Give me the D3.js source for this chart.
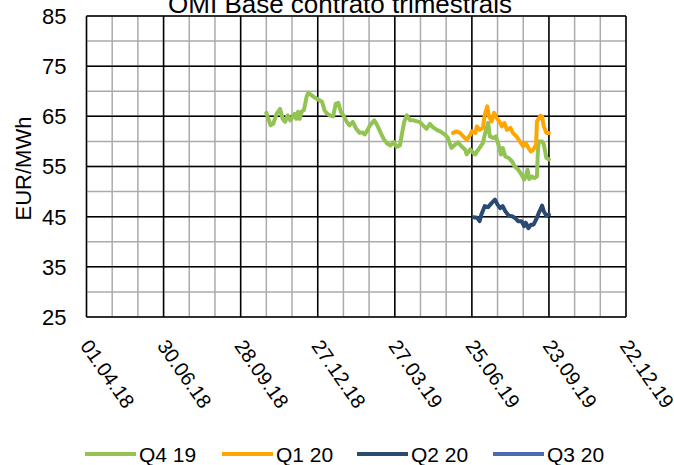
<!DOCTYPE html>
<html>
<head>
<meta charset="utf-8">
<script src="https://cdn.jsdelivr.net/npm/d3@7"></script>
<style>
  body { margin: 0; background: #fff; }
  svg { font-family: "Liberation Sans", Arial, sans-serif; }
</style>
</head>
<body>
<svg id="chart" width="674" height="465"></svg>
<script>
const chartTitle = "OMI Base contrato trimestrais";
const yTitle = "EUR/MWh";
const xTickLabels = ["01.04.18", "30.06.18", "28.09.18", "27.12.18", "27.03.19", "25.06.19", "23.09.19", "22.12.19"];
const yTicks = [25, 35, 45, 55, 65, 75, 85];
const seriesNames = ["Q4 19", "Q1 20", "Q2 20", "Q3 20"];
const seriesColors = ["#92c353", "#ffa600", "#2b4a72", "#5068ae"];

const q419Dates = ["28.10.18","02.11.18","05.11.18","09.11.18","13.11.18","16.11.18","19.11.18","22.11.18","25.11.18","28.11.18",
  "30.11.18","02.12.18","04.12.18","06.12.18","08.12.18","11.12.18","14.12.18","16.12.18","20.12.18","24.12.18",
  "28.12.18","01.01.19","04.01.19","07.01.19","10.01.19","14.01.19","17.01.19","20.01.19","23.01.19","26.01.19",
  "30.01.19","02.02.19","06.02.19","10.02.19","14.02.19","17.02.19","20.02.19","23.02.19","26.02.19","03.03.19",
  "06.03.19","10.03.19","14.03.19","18.03.19","22.03.19","26.03.19","29.03.19","02.04.19","04.04.19","07.04.19",
  "10.04.19","14.04.19","18.04.19","22.04.19","25.04.19","29.04.19","03.05.19","07.05.19","10.05.19","15.05.19",
  "19.05.19","25.05.19","28.05.19","01.06.19","05.06.19","09.06.19","13.06.19","17.06.19","19.06.19","23.06.19",
  "25.06.19","29.06.19","01.07.19","04.07.19","08.07.19","10.07.19","14.07.19","16.07.19","20.07.19","23.07.19",
  "26.07.19","29.07.19","31.07.19","03.08.19","07.08.19","11.08.19","14.08.19","18.08.19","22.08.19","25.08.19",
  "27.08.19","29.08.19","31.08.19","03.09.19","06.09.19","09.09.19","10.09.19","11.09.19","15.09.19","17.09.19",
  "20.09.19","23.09.19"];
const q419Values = [65.7,63.2,63.5,65.5,66.5,64.5,63.9,65.2,64.2,64.9,
  65.5,64.5,65.9,64.5,65.9,66.3,68.9,69.7,69.2,68.7,
  68.3,67.9,66.2,65.5,65.2,65.0,67.5,67.7,65.9,65.2,
  63.9,63.2,63.9,62.5,61.7,61.8,61.4,62.2,63.2,64.2,
  63.4,61.9,60.5,59.6,59.2,59.9,58.9,59.2,61.2,63.9,
  65.2,64.2,64.2,64.0,63.9,63.2,62.5,63.5,62.9,62.3,
  62.0,61.3,60.7,58.7,59.3,59.8,59.0,58.4,57.4,58.4,
  58.0,57.4,58.0,58.7,59.7,61.3,63.7,61.0,60.7,61.0,
  59.4,57.4,58.7,57.0,56.7,56.0,55.0,54.4,53.4,52.4,
  53.0,54.4,52.5,53.0,52.7,53.0,57.7,60.0,60.0,59.4,
  56.7,56.4];

const q120Dates = ["03.06.19","07.06.19","11.06.19","15.06.19","19.06.19","23.06.19","25.06.19","29.06.19",
  "01.07.19","04.07.19","08.07.19","10.07.19","13.07.19","15.07.19","18.07.19","21.07.19","24.07.19","27.07.19","30.07.19",
  "02.08.19","05.08.19","09.08.19","12.08.19","16.08.19","20.08.19","24.08.19","27.08.19","30.08.19",
  "02.09.19","05.09.19","08.09.19","09.09.19","13.09.19","15.09.19","17.09.19","20.09.19","23.09.19"];
const q120Values = [61.7,62.0,61.7,61.0,60.3,61.3,62.0,61.7,
  63.0,62.3,62.7,65.3,67.0,65.0,64.0,65.7,64.7,64.0,63.0,
  63.7,62.3,62.7,61.7,61.0,60.0,59.0,59.7,58.7,
  58.0,58.4,59.4,64.0,65.1,65.0,63.0,61.7,61.7];

const q220Dates = ["27.06.19","01.07.19","04.07.19","06.07.19","10.07.19","14.07.19","18.07.19","22.07.19","25.07.19","28.07.19","31.07.19",
  "03.08.19","07.08.19","11.08.19","14.08.19","18.08.19","22.08.19","25.08.19","27.08.19","30.08.19",
  "02.09.19","05.09.19","08.09.19","11.09.19","13.09.19","15.09.19","17.09.19","20.09.19","23.09.19"];
const q220Values = [44.9,44.8,44.1,45.4,47.1,46.9,47.7,48.4,47.4,46.7,47.1,
  46.1,45.2,45.1,44.8,44.1,44.1,43.1,43.8,42.7,
  43.4,43.4,44.4,45.7,46.4,47.2,46.1,45.2,45.4];

const q320Dates = [];
const q320Values = [];

const parseDate = d3.utcParse("%d.%m.%y");
const series = [
  [q419Dates, q419Values],
  [q120Dates, q120Values],
  [q220Dates, q220Values],
  [q320Dates, q320Values]
].map(([ds, vs], i) => ({
  name: seriesNames[i],
  color: seriesColors[i],
  points: ds.map((d, j) => ({ date: parseDate(d), value: vs[j] }))
}));

const svg = d3.select("#chart");
const margin = { left: 86.5, right: 48, top: 16, bottom: 148 };
const width = +svg.attr("width");
const height = +svg.attr("height");
const plotW = width - margin.left - margin.right;
const plotH = height - margin.top - margin.bottom;

const tickDates = xTickLabels.map(parseDate);
const x = d3.scaleUtc()
  .domain([tickDates[0], tickDates[tickDates.length - 1]])
  .range([margin.left, margin.left + plotW]);
const y = d3.scaleLinear()
  .domain([25, 85])
  .range([margin.top + plotH, margin.top]);

// minor grid (every 30 days / every 5 units)
const minorX = d3.range(0, 631, 30).map(k => d3.utcDay.offset(tickDates[0], k));
const minorY = d3.range(25, 86, 5);
const grid = svg.append("g");
grid.selectAll(".mx").data(minorX).join("line")
  .attr("x1", d => x(d)).attr("x2", d => x(d))
  .attr("y1", y(25)).attr("y2", y(85))
  .attr("stroke", "#ababab").attr("stroke-width", 1.5);
grid.selectAll(".my").data(minorY).join("line")
  .attr("y1", d => y(d)).attr("y2", d => y(d))
  .attr("x1", x.range()[0]).attr("x2", x.range()[1])
  .attr("stroke", "#ababab").attr("stroke-width", 1.5);

// major grid
grid.selectAll(".Mx").data(tickDates).join("line")
  .attr("x1", d => x(d)).attr("x2", d => x(d))
  .attr("y1", y(25)).attr("y2", y(85))
  .attr("stroke", "#000").attr("stroke-width", 1.5);
grid.selectAll(".My").data(yTicks).join("line")
  .attr("y1", d => y(d)).attr("y2", d => y(d))
  .attr("x1", x.range()[0]).attr("x2", x.range()[1])
  .attr("stroke", "#000").attr("stroke-width", 1.5);

// axes labels
svg.append("g").selectAll("text").data(yTicks).join("text")
  .attr("x", margin.left - 20)
  .attr("y", d => y(d))
  .attr("dy", "0.36em")
  .attr("text-anchor", "end")
  .attr("font-size", 22)
  .text(d => d);

svg.append("g").selectAll("text").data(tickDates).join("text")
  .attr("transform", d => `translate(${x(d) - 7},${margin.top + plotH + 29}) rotate(55)`)
  .attr("font-size", 20)
  .text((d, i) => xTickLabels[i]);

svg.append("text")
  .attr("transform", `translate(31,${margin.top + plotH / 2 + 2}) rotate(-90)`)
  .attr("text-anchor", "middle")
  .attr("font-size", 22)
  .text(yTitle);

svg.append("text")
  .attr("x", 340).attr("y", 13)
  .attr("text-anchor", "middle")
  .attr("font-size", 26)
  .text(chartTitle);

// series lines
const line = d3.line().x(d => x(d.date)).y(d => y(d.value));
svg.append("g").selectAll("path").data(series.filter(s => s.points.length)).join("path")
  .attr("d", s => line(s.points))
  .attr("fill", "none")
  .attr("stroke", s => s.color)
  .attr("stroke-width", 4)
  .attr("stroke-linejoin", "round")
  .attr("stroke-linecap", "round");

// legend
const legendX = [85, 222, 357, 493];
const legend = svg.append("g").selectAll("g").data(series).join("g")
  .attr("transform", (d, i) => `translate(${legendX[i]},454)`);
legend.append("line")
  .attr("x1", 0).attr("x2", 51)
  .attr("stroke", d => d.color).attr("stroke-width", 4);
legend.append("text")
  .attr("x", 54).attr("dy", "0.36em")
  .attr("font-size", 21)
  .text(d => d.name);
</script>
</body>
</html>
